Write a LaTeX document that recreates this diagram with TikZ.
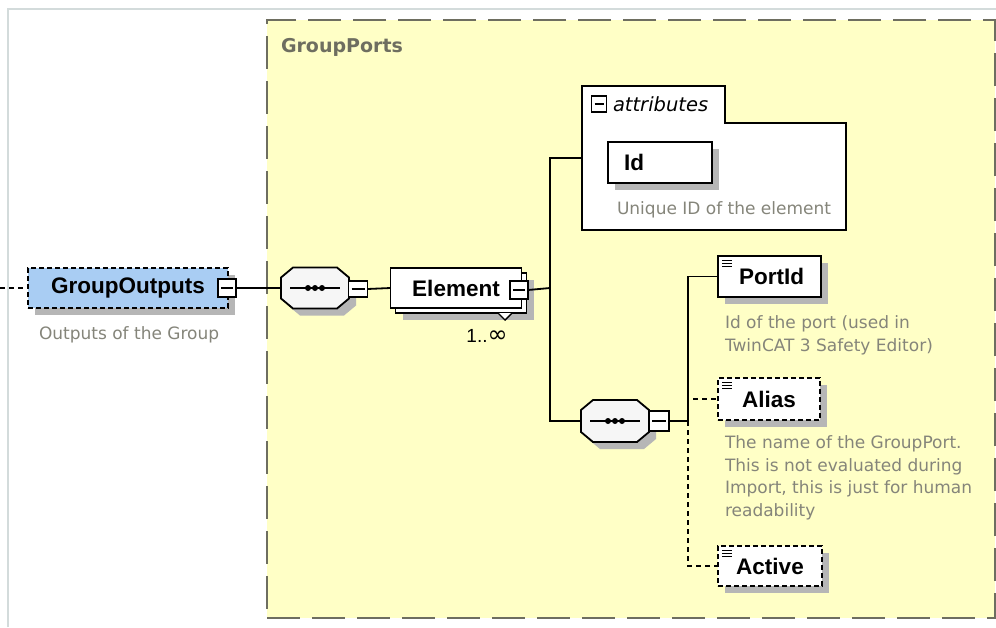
\documentclass[tikz,border=0pt]{standalone}
\usepackage{fontspec}
\setmainfont{Liberation Sans}
\newfontfamily\descfont{DejaVu Sans}
\usetikzlibrary{shadows,calc}
\definecolor{pale}{HTML}{FFFFC6}
\definecolor{framec}{HTML}{6E6E60}
\definecolor{shadowc}{HTML}{B6B6B6}
\definecolor{desccol}{HTML}{85857A}
\definecolor{bluefill}{HTML}{A9CDF3}
\definecolor{outerc}{HTML}{D3DBDB}
\definecolor{seqfill}{HTML}{F6F6F6}
\newcommand\octpath[3]{($(#1.north west)+(12+#2,#3)$) -- ($(#1.north east)+(-12+#2,#3)$) -- ($(#1.north east)+(#2,10+#3)$) -- ($(#1.south east)+(#2,-10+#3)$) -- ($(#1.south east)+(-12+#2,#3)$) -- ($(#1.south west)+(12+#2,#3)$) -- ($(#1.south west)+(#2,-10+#3)$) -- ($(#1.north west)+(#2,10+#3)$) -- cycle}
\newcommand\seqicon[1]{%
  \fill[shadowc] \octpath{#1}{7}{7};
  \draw[line width=1.8pt, fill=seqfill] \octpath{#1}{0}{0};
  \draw[line width=1.5pt] ([xshift=-25pt]#1.center) -- ([xshift=25pt]#1.center);
  \foreach \d in {-7,0,7} \fill ([xshift=\d pt]#1.center) circle (3pt);}
\begin{document}
\begin{tikzpicture}[x=1pt,y=-1pt,
  every node/.style={inner sep=0pt, outer sep=0pt},
  bx/.style={draw=black, line width=1.8pt, fill=white, font=\fontsize{22.5}{26}\selectfont\bfseries},
  shad/.style={drop shadow={shadow xshift=7pt, shadow yshift=-7pt, fill=shadowc, opacity=1}},
  opt/.style={dash pattern=on 5pt off 3pt},
  minus/.style={draw=black, line width=1.4pt, fill=white, minimum width=18pt, minimum height=18pt,
    path picture={\draw[line width=1.4pt] ([xshift=3pt]path picture bounding box.west) -- ([xshift=-3pt]path picture bounding box.east);}},
  conn/.style={line width=1.8pt},
  optconn/.style={line width=1.8pt, dash pattern=on 5pt off 4pt},
  desc/.style={font=\descfont\fontsize{17}{22.5}\selectfont, text=desccol, align=left},
  seqbox/.style={minimum width=68pt, minimum height=41pt}
]
\useasboundingbox (0,0) rectangle (996,627);
\fill[white] (0,0) rectangle (996,627);
% outer frame
\draw[outerc, line width=1.5pt] (8,627) -- (8,9) -- (996,9);
% group ports box
\node[draw=framec, fill=pale, line width=1.5pt, dash pattern=on 33pt off 12pt,
  minimum width=728pt, minimum height=598pt, anchor=north west] (gp) at (267,20) {};
\node[anchor=west, font=\descfont\fontsize{19}{22}\selectfont\bfseries, text=framec] (gpl) at (281,47) {GroupPorts};

% GroupOutputs
\node[bx, opt, fill=bluefill, shad, minimum width=200pt, minimum height=40pt] (go) at (128,288) {GroupOutputs\hspace{8pt}};
\node[minus] (gom) at (227,288) {};
\node[desc, anchor=base west] (god) at (39,339) {Outputs of the Group};
\coordinate (lft) at (0,288);

% sequence 1
\node[seqbox] (s1) at (315,288) {};
\seqicon{s1}
\node[minus, minimum width=19pt, minimum height=16pt] (s1m) at (358,289) {};

% Element (multiple)
\node[bx, shad, minimum width=131pt, minimum height=40pt] (elb) at (461,293) {};
\node[bx, minimum width=131pt, minimum height=40pt] (el) at (456,288) {Element\hspace{10pt}};
\draw[line width=1.4pt, fill=white] (498,313) -- (505,320) -- (512,313);
\node[minus] (elm) at (519,290) {};
\node[font=\fontsize{19}{20}\selectfont] (card) at (487,336) {1..{\descfont\fontsize{24}{24}\selectfont ∞}};

% attributes
\node[minimum width=264pt, minimum height=144pt, anchor=north west] (attr) at (582,86) {};
\draw[line width=1.8pt, fill=white] (attr.north west) -- ($(attr.north west)+(143,0)$) -- ($(attr.north west)+(143,37)$)
  -- ($(attr.north east)+(0,37)$) -- (attr.south east) -- (attr.south west) -- cycle;
\node[minus, minimum width=15pt, minimum height=16pt] (attrm) at (599,104) {};
\node[anchor=west, font=\descfont\fontsize{19.5}{22}\selectfont\itshape] (attrl) at (613,104) {attributes};
\node[bx, shad, minimum width=104pt, minimum height=41pt, text width=72pt, align=left] (id) at (660,162.5) {Id};
\node[desc, anchor=base west] (idd) at (617,214) {Unique ID of the element};

% sequence 2
\node[seqbox, minimum height=42pt] (s2) at (615,421) {};
\seqicon{s2}
\node[minus, minimum width=20pt, minimum height=20pt] (s2m) at (659,421) {};

% children
\node[bx, shad, minimum width=103pt, minimum height=41pt] (pid) at (769.5,276.5) {\hspace{4pt}PortId};
\node[bx, opt, shad, minimum width=102pt, minimum height=42pt] (al) at (769,399) {Alias\hspace{12pt}};
\node[bx, opt, shad, minimum width=104pt, minimum height=40pt] (act) at (770,566) {Active\hspace{4pt}};
\foreach \n in {pid,al,act}{
  \foreach \k in {4,7,10} \draw[line width=1pt] ([shift={(4,\k)}]\n.north west) -- ++(10,0);
}
\node[desc, anchor=north west] (pidd) at (725,316) {Id of the port (used in\\TwinCAT 3 Safety Editor)};
\node[desc, anchor=north west] (ald) at (725,436) {The name of the GroupPort.\\This is not evaluated during\\Import, this is just for human\\readability};

% connectors
\coordinate (j1) at (550,288);
\coordinate (j2) at (688,421);
\draw[optconn] (lft) -- (go.west);
\draw[conn] (gom.east) -- (s1.west);
\draw[conn] (s1m.east) -- (el.west);
\draw[conn] (elm.east) -- (j1);
\draw[conn] (j1) |- (attr.west);
\draw[conn] (j1) |- (s2.west);
\draw[optconn] (j2) |- (al.west);
\draw[optconn] (j2) |- (act.west);
\draw[conn] (s2m.east) -- (j2) |- (pid.west);
\end{tikzpicture}
\end{document}
